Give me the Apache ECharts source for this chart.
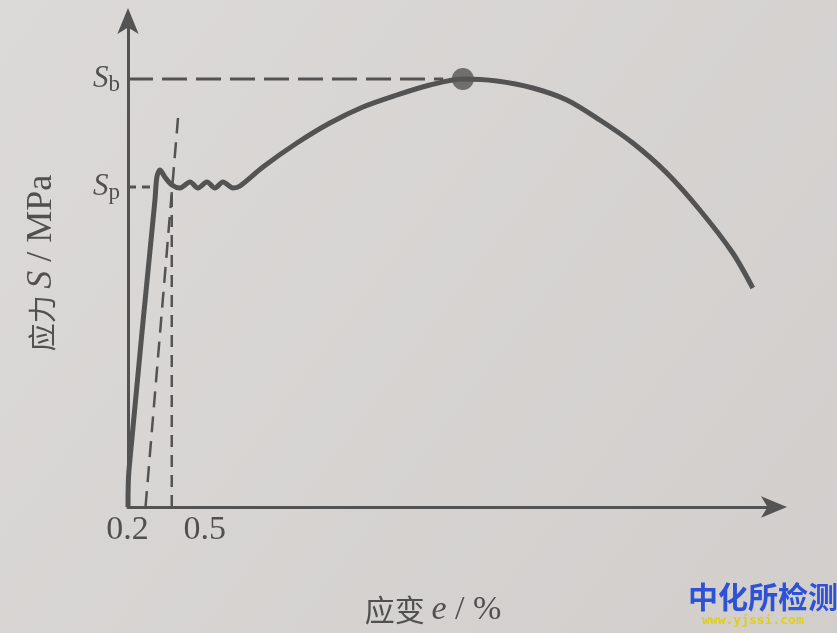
<!DOCTYPE html>
<html>
<head>
<meta charset="utf-8">
<script src="https://cdn.jsdelivr.net/npm/echarts@6/dist/echarts.min.js"></script>
<style>
html,body{margin:0;padding:0;width:837px;height:633px;overflow:hidden;background:#d8d5d3;}
#chart{width:837px;height:633px;}
</style>
</head>
<body>
<div id="chart"></div>
<script>
// ---- data (strain %, schematic stress) ----
const curveStrain = [0, 0.011, 0.308, 0.33, 0.365, 0.42, 0.502, 0.594, 0.708, 0.799, 0.902, 0.993, 1.084, 1.199, 1.279, 1.541, 1.929, 2.306, 2.683, 3.071, 3.447, 3.824, 4.212, 4.623, 5.011, 5.388, 5.765, 6.153, 6.530, 6.906, 7.135];
const curveStress = [0, 37, 307, 330, 337, 330, 322, 319, 325, 319, 325, 319, 325, 319, 321, 340, 364, 384, 400, 412, 422, 428, 426, 419, 407, 387, 364, 334, 297, 254, 219];
const offsetStrain = 0.2;        // 0.2% offset line start
const offsetLineEnd = [0.571, 389];
const markStrain = 0.5;          // 0.5% vertical line
const Sb = 428;                  // tensile strength level
const Sp = 320;                  // proof strength level
const SbStrain = 3.824;          // strain at Sb
const SbDashEnd = 3.6;
const SpDashEnd = 0.3;
const xTickValues = [0.2, 0.5];
const xTickLabels = ['0.2', '0.5'];
const yTickValues = [Sb, Sp];
const yTickLabels = [['S', 'b'], ['S', 'p']];

const curveData = curveStrain.map((x, i) => [x, curveStress[i]]);
const lineColor = '#535353';
const textColor = '#505050';
const serif = "'Liberation Serif','DejaVu Serif','Noto Sans CJK SC',serif";
const cjk = "'Noto Sans CJK SC','Liberation Serif',serif";

const chart = echarts.init(document.getElementById('chart'));
chart.setOption({
  animation: false,
  backgroundColor: {
    type: 'linear', x: 0, y: 0, x2: 1, y2: 1,
    colorStops: [{offset: 0, color: '#dcdad8'}, {offset: 1, color: '#d1cecc'}]
  },
  grid: {left: 128, right: 61, top: 19, bottom: 126},
  xAxis: {
    type: 'value', min: 0, max: 7.4, interval: 0.1,
    name: '{n|应变 }{i|e}{l| / %}',
    nameLocation: 'middle', nameGap: 86,
    nameTextStyle: {
      padding: [0, 38, 0, 0],
      rich: {
        n: {fontFamily: cjk, fontSize: 30, color: textColor},
        i: {fontFamily: serif, fontSize: 34, fontStyle: 'italic', color: textColor},
        l: {fontFamily: serif, fontSize: 34, color: textColor}
      }
    },
    axisLine: {show: true, lineStyle: {color: lineColor, width: 3}, symbol: ['none', 'arrow'], symbolSize: [16, 26], symbolOffset: [0, 11]},
    axisTick: {show: false},
    splitLine: {show: false},
    axisLabel: {
      margin: 6,
      formatter: function (v) {
        for (let i = 0; i < xTickValues.length; i++) {
          if (Math.abs(v - xTickValues[i]) < 1e-6) return '{t' + i + '|' + xTickLabels[i] + '}';
        }
        return '';
      },
      rich: {
        t0: {fontFamily: serif, fontSize: 34, color: textColor, padding: [0, 36, 0, 0]},
        t1: {fontFamily: serif, fontSize: 34, color: textColor, padding: [0, 0, 0, 66]}
      }
    }
  },
  yAxis: {
    type: 'value', min: 0, max: 488, interval: 4,
    name: '{n|应力 }{i|S}{l| / MPa}',
    nameLocation: 'middle', nameGap: 68, nameRotate: 90,
    nameTextStyle: {
      rich: {
        n: {fontFamily: cjk, fontSize: 28, color: textColor},
        i: {fontFamily: serif, fontSize: 36, fontStyle: 'italic', color: textColor},
        l: {fontFamily: serif, fontSize: 36, color: textColor}
      }
    },
    axisLine: {show: true, lineStyle: {color: lineColor, width: 3}, symbol: ['none', 'arrow'], symbolSize: [16, 26], symbolOffset: [0, 11]},
    axisTick: {show: false},
    splitLine: {show: false},
    axisLabel: {
      margin: 8,
      formatter: function (v) {
        for (let i = 0; i < yTickValues.length; i++) {
          if (Math.abs(v - yTickValues[i]) < 1e-6) return '{s|' + yTickLabels[i][0] + '}{sub|' + yTickLabels[i][1] + '}';
        }
        return '';
      },
      rich: {
        s: {fontFamily: serif, fontSize: 31, fontStyle: 'italic', color: textColor},
        sub: {fontFamily: serif, fontSize: 23, color: textColor, padding: [12, 0, 0, 0]}
      }
    }
  },
  series: [
    {
      type: 'line', name: 'Sb level', data: [[0, Sb], [SbDashEnd, Sb]],
      symbol: 'none', lineStyle: {color: lineColor, width: 3, type: [25, 9]}, z: 2
    },
    {
      type: 'line', name: 'Sp level', data: [[0, Sp], [SpDashEnd, Sp]],
      symbol: 'none', lineStyle: {color: lineColor, width: 3, type: [8, 6]}, z: 2
    },
    {
      type: 'line', name: 'offset 0.2', data: [[offsetStrain, 0], offsetLineEnd],
      symbol: 'none', lineStyle: {color: lineColor, width: 2.5, type: [16, 9]}, z: 2
    },
    {
      type: 'line', name: 'strain 0.5', data: [[markStrain, 0], [markStrain, Sp]],
      symbol: 'none', lineStyle: {color: lineColor, width: 2.5, type: [12, 8]}, z: 2
    },
    {
      type: 'line', name: 'curve', data: curveData, smooth: 0.3,
      symbol: 'none', lineStyle: {color: lineColor, width: 5}, z: 3
    },
    {
      type: 'scatter', name: 'peak', data: [[SbStrain, Sb]],
      symbolSize: 22, itemStyle: {color: '#555555'}, z: 4
    }
  ],
  graphic: [
    {type: 'text', left: 688, top: 582, style: {text: '中化所检测', font: "bold 30px 'Noto Sans CJK SC'", fill: '#2d52d6'}},
    {type: 'text', left: 702, top: 614, style: {text: 'www.yjssi.com', font: "bold 13px 'DejaVu Sans Mono'", fill: '#e2cd1c'}}
  ]
});
</script>
</body>
</html>
